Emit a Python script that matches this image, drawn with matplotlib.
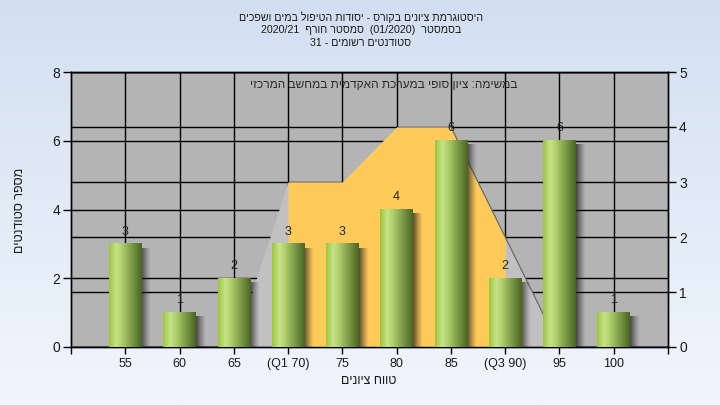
import re
import numpy as np
import matplotlib
matplotlib.use('Agg')
import matplotlib.pyplot as plt
import matplotlib.transforms as mtransforms
from matplotlib.colors import LinearSegmentedColormap, to_rgb

# ---------------- data ----------------
categories = ['55', '60', '65', '(Q1 70)', '75', '80', '85', '(Q3 90)', '95', '100']
counts = [3, 1, 2, 3, 3, 4, 6, 2, 6, 1]
dist_values = [0, 0, 0, 3, 3, 4, 4, 2, 0, 0]      # right axis (area)
q1_index = 3
q3_index = 7
left_ticks = [0, 2, 4, 6, 8]
right_ticks = [0, 1, 2, 3, 4, 5]

title_lines = [
    'היסטוגרמת ציונים בקורס - יסודות הטיפול במים ושפכים',
    'בסמסטר  (01/2020)  סמסטר חורף  2020/21',
    'סטודנטים רשומים - 31',
]
note_text = 'במשימה: ציון סופי במערכת האקדמית במחשב המרכזי'
x_label = 'טווח ציונים'
y_label = 'מספר סטודנטים'


def vis(s):
    """Convert logical-order Hebrew text to visual (left-to-right) order."""
    ltr = r'[0-9A-Za-z()/.]'
    parts = re.findall(r'[0-9A-Za-z()/.]+|[^0-9A-Za-z()/.]+', s)
    out = []
    for p in reversed(parts):
        out.append(p if re.match(ltr, p) else p[::-1])
    return ''.join(out)


plt.rcParams['font.family'] = ['Liberation Sans', 'DejaVu Sans']
TXT = '#1a1a1a'

fig = plt.figure(figsize=(7.2, 4.05), dpi=100)

# background gradient
bg = fig.add_axes([0, 0, 1, 1], zorder=-10)
top_c = np.array(to_rgb('#d3dff1'))
bot_c = np.array(to_rgb('#f0f6fd'))
t = np.linspace(0, 1, 256)[:, None]
grad = top_c[None, :] * (1 - t) + bot_c[None, :] * t
bg.imshow(grad[:, None, :].repeat(2, axis=1), aspect='auto', extent=[0, 1, 0, 1])
bg.set_axis_off()

rect = [71 / 720, 1 - 347 / 405, (668 - 71) / 720, (347 - 72) / 405]
ax = fig.add_axes(rect)
ax2 = ax.twinx()
ax.set_zorder(ax2.get_zorder() + 1)
ax.patch.set_visible(False)
ax2.patch.set_visible(True)
ax2.patch.set_facecolor('#b4b4b4')

x = np.arange(len(categories))
ax.set_xlim(-1, len(categories))
ax.set_ylim(left_ticks[0], left_ticks[-1])
ax2.set_ylim(right_ticks[0], right_ticks[-1])

# grid (drawn under the area)
trans_left = mtransforms.blended_transform_factory(ax2.transAxes, ax.transData)
for v in left_ticks:
    ax2.plot([0, 1], [v, v], transform=trans_left, color='k', lw=1, zorder=1)
for v in right_ticks:
    ax2.axhline(v, color='k', lw=1, zorder=1)
for i in x:
    ax2.axvline(i, color='k', lw=1, zorder=1)

# distribution area
ax2.fill_between(x, dist_values, color='#c1c1c1', lw=0, zorder=2)
ax2.fill_between(x[q1_index:q3_index + 1], dist_values[q1_index:q3_index + 1],
                 color='#fecb5b', lw=0, zorder=3)
ax2.plot(x[6:9], dist_values[6:9], color='#6a6a6a', lw=0.9, zorder=4)

# bars with cylinder gradient
w = 0.6
green = LinearSegmentedColormap.from_list('g', [
    (0.0, '#9cc63c'), (0.22, '#c8e38c'), (0.38, '#b2d06c'),
    (0.7, '#7b9a46'), (1.0, '#4b6523')])
bar_grad = green(np.linspace(0, 1, 64))[None, :, :]
shadow = np.zeros((1, 32, 4))
shadow[..., :3] = 0.12
shadow[..., 3] = np.linspace(0.85, 0.0, 32) ** 1.2

for i, v in zip(x, counts):
    ax.imshow(shadow, extent=[i + w / 2 - 0.02, i + w / 2 + 0.17, -0.15, v - 0.12],
              aspect='auto', zorder=2, interpolation='bilinear')
    ax.imshow(bar_grad, extent=[i - w / 2, i + w / 2, 0, v], aspect='auto',
              zorder=3, interpolation='bicubic')
    ax.text(i, v + 0.36, str(v), ha='center', va='center', fontsize=9,
            color='#222222', zorder=5)

ax.set_xlim(-1, len(categories))
ax.set_ylim(left_ticks[0], left_ticks[-1])

# note
ax.text((384 - 71) / 597, (347 - 85) / 275, vis(note_text), transform=ax.transAxes,
        ha='center', va='center', fontsize=8.6, color='#2a2a2a', zorder=6)

# ticks
ax.set_xticks(list(range(-1, len(categories) + 1)))
ax.set_xticklabels([''] + categories + [''], fontsize=9, color=TXT)
ax.set_yticks(left_ticks)
ax.set_yticklabels([str(v) for v in left_ticks], fontsize=10, color=TXT)
ax2.set_yticks(right_ticks)
ax2.set_yticklabels([str(v) for v in right_ticks], fontsize=10, color=TXT)
ax.tick_params(axis='x', length=5, width=1, direction='out', pad=3)
ax.tick_params(axis='y', length=6, width=1, direction='out', pad=2)
ax2.tick_params(axis='y', length=6, width=1, direction='out', pad=2)
for a in (ax, ax2):
    for s in a.spines.values():
        s.set_color('k')
        s.set_linewidth(1)

# labels
fig.text(369 / 720, 1 - 381 / 405, vis(x_label), ha='center', va='center',
         fontsize=9, color=TXT)
fig.text(20 / 720, 1 - 210 / 405, vis(y_label), ha='center', va='center',
         fontsize=9, color=TXT, rotation=90)
for k, line in enumerate(title_lines):
    fig.text(361 / 720, 1 - (17 + 13 * k) / 405, vis(line), ha='center', va='center',
             fontsize=7.7, color=TXT)

fig.savefig('out.png', dpi=100)
